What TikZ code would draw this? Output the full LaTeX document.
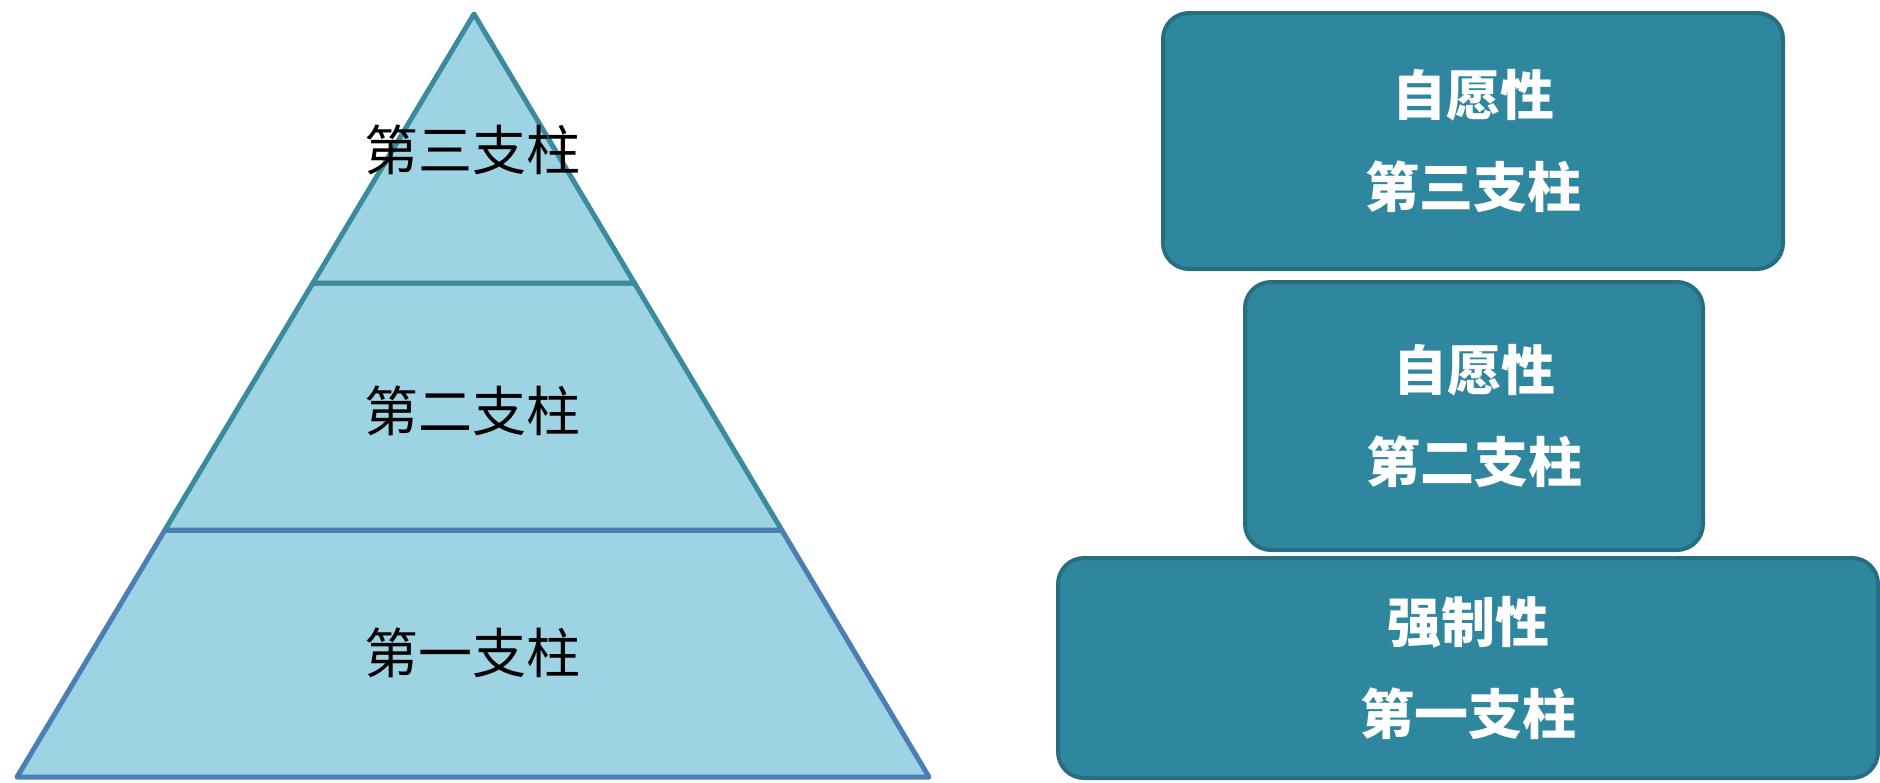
\documentclass[tikz,border=0pt]{standalone}
\usepackage{fontspec}
\usetikzlibrary{calc}
\newfontfamily\cjk{Noto Sans CJK SC}
\definecolor{pyrfill}{HTML}{9ED3E4}
\definecolor{pyrteal}{HTML}{3A8C9C}
\definecolor{pyrblue}{HTML}{4C7DB5}
\definecolor{boxfill}{HTML}{2F869F}
\definecolor{boxline}{HTML}{266E80}
\tikzset{
  pyrlabel/.style={font=\cjk\fontsize{27}{30}\selectfont, text=black, inner sep=0pt},
  pillarbox/.style={draw=boxline, fill=boxfill, line width=2pt, rounded corners=13pt,
    align=center, text=white, font=\cjk\bfseries\fontsize{27}{46}\selectfont, inner sep=0pt},
  tier/.style={fill=pyrfill, line width=2.5pt, line join=round}
}
\begin{document}
\begin{tikzpicture}[x=0.5pt,y=-0.5pt]
\useasboundingbox (0,0) rectangle (1880,782);
% pyramid corners
\coordinate (apex) at (474,14);
\coordinate (bl) at (17,777);
\coordinate (br) at (929,777);
\coordinate (l1) at ($(apex)!0.3526!(bl)$);
\coordinate (r1) at ($(apex)!0.3526!(br)$);
\coordinate (l2) at ($(apex)!0.6763!(bl)$);
\coordinate (r2) at ($(apex)!0.6763!(br)$);
% tiers
\draw[tier, draw=pyrblue] (l2) -- (r2) -- (br) -- (bl) -- cycle;
\draw[tier, draw=pyrteal] (l1) -- (r1) -- (r2) -- (l2) -- cycle;
\draw[tier, draw=pyrteal] (apex) -- (r1) -- (l1) -- cycle;
\draw[line width=2.5pt, draw=pyrblue] (l2) -- (r2);
% labels
\node[pyrlabel] (p3) at (472,150) {第三支柱};
\node[pyrlabel] (p2) at (472,411) {第二支柱};
\node[pyrlabel] (p1) at (472,653) {第一支柱};
% boxes
\node[pillarbox, minimum width=310pt, minimum height=128pt] (b3) at (1473,141) {自愿性\\第三支柱};
\node[pillarbox, minimum width=229pt, minimum height=134pt] (b2) at (1474,416) {自愿性\\第二支柱};
\node[pillarbox, minimum width=410pt, minimum height=110pt] (b1) at (1468,668) {强制性\\第一支柱};
\end{tikzpicture}
\end{document}
